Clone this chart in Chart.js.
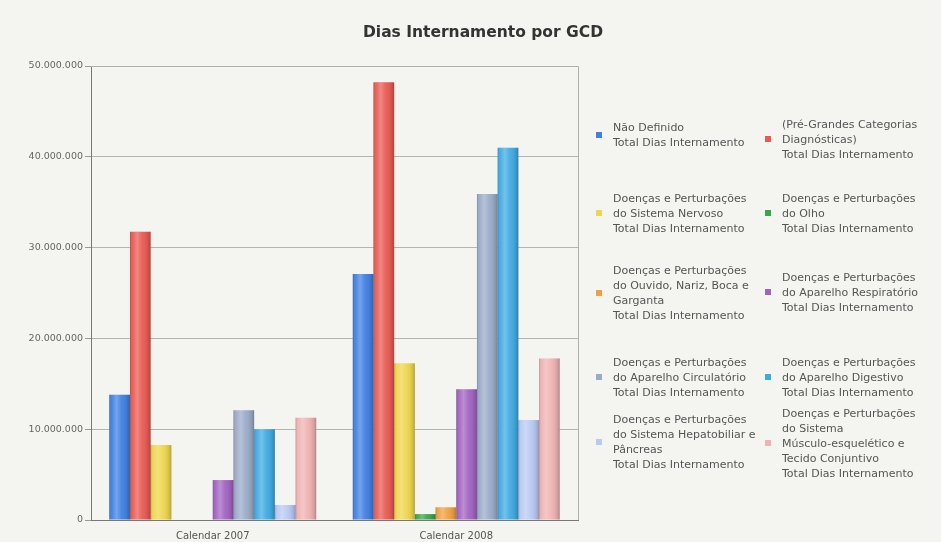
<!DOCTYPE html>
<html>
<head>
<meta charset="utf-8">
<script src="https://cdn.jsdelivr.net/npm/chart.js@4.4.1/dist/chart.umd.min.js"></script>
<style>
  html, body { margin:0; padding:0; background:#f4f4f0; }
  #wrap { position:relative; width:941px; height:542px; background:#f4f4f0; overflow:hidden; }
  #c { position:absolute; left:0; top:0; }
  #title { position:absolute; left:483px; top:32px; transform:translate(-50%,-50%);
           font:bold 15.5px "DejaVu Sans", sans-serif; color:#333; white-space:nowrap; }
  .item { position:absolute; transform:translateY(-50%); font:11px "DejaVu Sans", sans-serif;
          color:#555; line-height:15px; white-space:nowrap; }
  .sw { position:absolute; width:6px; height:6px; transform:translateY(-50%); }
</style>
</head>
<body>
<div id="wrap">
  <canvas id="c" width="941" height="542"></canvas>
  <div id="title">Dias Internamento por GCD</div>
  <div id="legend"></div>
</div>
<script>
const categories = ["Calendar 2007", "Calendar 2008"];
const seriesNames = [
  ["Não Definido"],
  ["(Pré-Grandes Categorias", "Diagnósticas)"],
  ["Doenças e Perturbações", "do Sistema Nervoso"],
  ["Doenças e Perturbações", "do Olho"],
  ["Doenças e Perturbações", "do Ouvido, Nariz, Boca e", "Garganta"],
  ["Doenças e Perturbações", "do Aparelho Respiratório"],
  ["Doenças e Perturbações", "do Aparelho Circulatório"],
  ["Doenças e Perturbações", "do Aparelho Digestivo"],
  ["Doenças e Perturbações", "do Sistema Hepatobiliar e", "Pâncreas"],
  ["Doenças e Perturbações", "do Sistema", "Músculo-esquelético e", "Tecido Conjuntivo"]
];
const measureName = "Total Dias Internamento";
const values2007 = [13800000, 31750000, 8250000, 0, 0, 4400000, 12100000, 10000000, 1650000, 11270000];
const values2008 = [27100000, 48200000, 17250000, 650000, 1400000, 14400000, 35900000, 41000000, 11000000, 17800000];
const colors = ["#3f80e2", "#e85a52", "#eed64c", "#3ba54c", "#f0a040", "#a262c2", "#9aaac8", "#3faae2", "#b9c9f2", "#f0b2b2"];
const yTicks = [0, 10000000, 20000000, 30000000, 40000000, 50000000];

function fmt(v) { return String(v).replace(/\B(?=(\d{3})+(?!\d))/g, "."); }

const datasets = seriesNames.map((n, i) => ({
  label: n.join(" ") + " " + measureName,
  data: [values2007[i], values2008[i]],
  backgroundColor: colors[i],
  borderWidth: 0
}));

const shade = {
  id: "shade",
  afterDatasetsDraw(chart) {
    const ctx = chart.ctx;
    chart.data.datasets.forEach((d, di) => {
      chart.getDatasetMeta(di).data.forEach(el => {
        const w = el.width, x0 = el.x - w / 2;
        const top = Math.min(el.y, el.base), h = Math.abs(el.base - el.y);
        if (h <= 0) return;
        const g = ctx.createLinearGradient(x0, 0, x0 + w, 0);
        g.addColorStop(0, "rgba(0,0,0,0.18)");
        g.addColorStop(0.12, "rgba(255,255,255,0.05)");
        g.addColorStop(0.35, "rgba(255,255,255,0.28)");
        g.addColorStop(0.6, "rgba(255,255,255,0.05)");
        g.addColorStop(0.9, "rgba(0,0,0,0.12)");
        g.addColorStop(1, "rgba(0,0,0,0.25)");
        ctx.save();
        ctx.fillStyle = g;
        ctx.fillRect(x0, top, w, h);
        ctx.restore();
      });
    });
  },
  afterDraw(chart) {
    const a = chart.chartArea, ctx = chart.ctx;
    ctx.save();
    ctx.strokeStyle = "#b0b0b0";
    ctx.lineWidth = 1;
    ctx.beginPath();
    ctx.moveTo(a.left, a.top + 0.5); ctx.lineTo(a.right + 0.5, a.top + 0.5);
    ctx.lineTo(a.right + 0.5, a.bottom);
    ctx.stroke();
    ctx.restore();
  }
};

new Chart(document.getElementById("c"), {
  type: "bar",
  data: { labels: categories, datasets },
  plugins: [shade],
  options: {
    responsive: false,
    animation: false,
    layout: { padding: { left: 0, top: 66, right: 363, bottom: 0 } },
    plugins: { legend: { display: false }, title: { display: false }, tooltip: { enabled: false } },
    datasets: { bar: { categoryPercentage: 0.85, barPercentage: 1.0 } },
    scales: {
      x: {
        grid: { display: false, drawTicks: false },
        border: { display: true, color: "#777" },
        ticks: { color: "#555", padding: 10, font: { family: "DejaVu Sans", size: 10 } },
        afterFit(s) { s.height = 22; }
      },
      y: {
        min: 0, max: 50000000,
        afterBuildTicks(s) { s.ticks = yTicks.map(v => ({ value: v })); },
        grid: { color: "#b4b4b4", tickLength: 6, tickColor: "#999" },
        border: { display: true, color: "#777" },
        ticks: { color: "#666", padding: 2, font: { family: "DejaVu Sans", size: 9.5 }, callback: v => fmt(v) },
        afterFit(s) { s.width = 91; }
      }
    }
  }
});

// HTML legend built from the series arrays
const legendPos = [
  { x: 596, tx: 613, y: 135 }, { x: 765, tx: 782, y: 139 },
  { x: 596, tx: 613, y: 213 }, { x: 765, tx: 782, y: 213 },
  { x: 596, tx: 613, y: 293 }, { x: 765, tx: 782, y: 292 },
  { x: 596, tx: 613, y: 377 }, { x: 765, tx: 782, y: 377 },
  { x: 596, tx: 613, y: 442 }, { x: 765, tx: 782, y: 443 }
];
const leg = document.getElementById("legend");
seriesNames.forEach((n, i) => {
  const p = legendPos[i];
  const sw = document.createElement("div");
  sw.className = "sw"; sw.style.left = p.x + "px"; sw.style.top = p.y + "px"; sw.style.background = colors[i];
  leg.appendChild(sw);
  const it = document.createElement("div");
  it.className = "item"; it.style.left = p.tx + "px"; it.style.top = p.y + "px";
  it.innerHTML = n.concat([measureName]).map(s => s.replace(/&/g, "&amp;")).join("<br>");
  leg.appendChild(it);
});
</script>
</body>
</html>
